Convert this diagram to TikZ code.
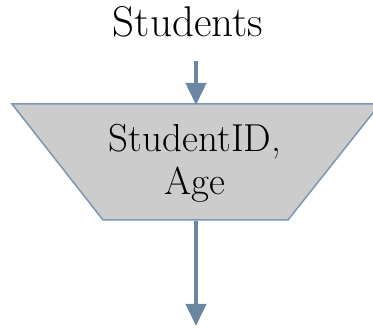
\documentclass[tikz,border=0pt]{standalone}
\usetikzlibrary{arrows.meta}
\definecolor{flowline}{HTML}{6A86A3}
\definecolor{boxedge}{HTML}{7B96B2}
\definecolor{boxfill}{HTML}{CCCCCC}
\tikzset{
  flow/.style={draw=flowline, line width=4pt, -{Triangle[length=22pt,width=20pt]}},
  label/.style={align=center, inner sep=0pt},
  trapbox/.style={draw=boxedge, fill=boxfill, line width=1.5pt, line join=miter}
}
\begin{document}
\begin{tikzpicture}[x=1pt,y=-1pt]
  \useasboundingbox (0,0) rectangle (373,328);
  % title
  \node[label, anchor=base, font=\fontsize{43}{46}\selectfont] (title) at (188,37) {Students};
  \coordinate (inTop) at (196,61);
  \coordinate (inEnd) at (196,105);
  % filter trapezoid
  \draw[trapbox] (12,104) -- (380,104) -- (288,220) -- (103,220) -- cycle;
  \node[label, anchor=base, font=\fontsize{39}{43}\selectfont] (fields) at (195,195) {StudentID,\\Age};
  \coordinate (outStart) at (196,221);
  \coordinate (outEnd) at (196,326);
  \draw[flow] (inTop) -- (inEnd);
  \draw[flow] (outStart) -- (outEnd);
\end{tikzpicture}
\end{document}
